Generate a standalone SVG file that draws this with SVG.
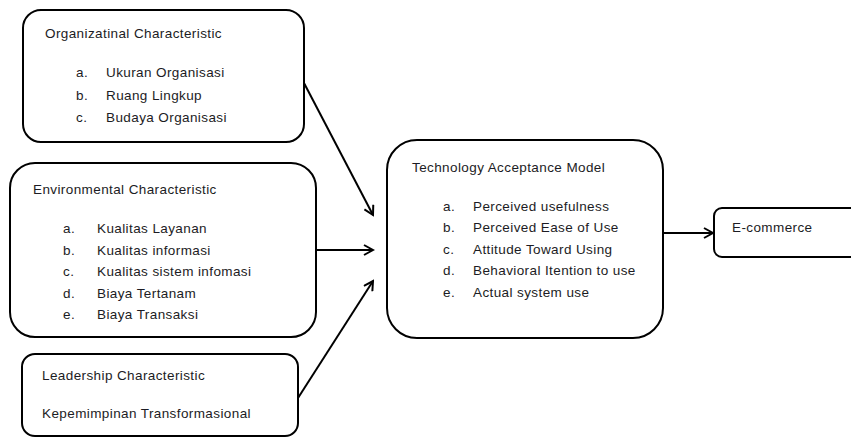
<svg xmlns="http://www.w3.org/2000/svg" width="851" height="438" viewBox="0 0 851 438">
<style>
.box{fill:#fff;stroke:#000;stroke-width:2}
text{font-family:"Liberation Sans",Arial,sans-serif;font-size:13.5px;letter-spacing:0.4px;fill:#1c1c24}
.conn{stroke:#000;stroke-width:2;fill:none}
</style>
<defs>
<marker id="arr" markerWidth="12" markerHeight="12" refX="10" refY="6" orient="auto" markerUnits="userSpaceOnUse">
<path d="M1,1 L10,6 L1,11" fill="none" stroke="#000" stroke-width="2"/>
</marker>
</defs>
<rect width="851" height="438" fill="#fff"/>
<g id="connectors">
<line class="conn" x1="304" y1="83" x2="373" y2="215" marker-end="url(#arr)"/>
<line class="conn" x1="316" y1="250" x2="373" y2="250" marker-end="url(#arr)"/>
<line class="conn" x1="298" y1="398" x2="373" y2="281" marker-end="url(#arr)"/>
<line class="conn" x1="663" y1="233" x2="713" y2="233" marker-end="url(#arr)"/>
</g>
<g id="org">
<rect class="box" x="23" y="10" width="281" height="132" rx="18"/>
<text x="45" y="38">Organizatinal Characteristic</text>
<text x="76" y="77">a.</text><text x="106" y="77">Ukuran Organisasi</text>
<text x="76" y="100">b.</text><text x="106" y="100">Ruang Lingkup</text>
<text x="76" y="122">c.</text><text x="106" y="122">Budaya Organisasi</text>
</g>
<g id="env">
<rect class="box" x="10" y="163" width="306" height="174" rx="25"/>
<text x="33" y="194">Environmental Characteristic</text>
<text x="63" y="233">a.</text><text x="97" y="233">Kualitas Layanan</text>
<text x="63" y="255">b.</text><text x="97" y="255">Kualitas informasi</text>
<text x="63" y="276">c.</text><text x="97" y="276">Kualitas sistem infomasi</text>
<text x="63" y="298">d.</text><text x="97" y="298">Biaya Tertanam</text>
<text x="63" y="319">e.</text><text x="97" y="319">Biaya Transaksi</text>
</g>
<g id="lead">
<rect class="box" x="22" y="354" width="276" height="82" rx="13"/>
<text x="42" y="380">Leadership Characteristic</text>
<text x="42" y="418">Kepemimpinan Transformasional</text>
</g>
<g id="tam">
<rect class="box" x="387" y="140" width="276" height="198" rx="30"/>
<text x="412" y="172">Technology Acceptance Model</text>
<text x="443" y="211">a.</text><text x="473" y="211">Perceived usefulness</text>
<text x="443" y="232">b.</text><text x="473" y="232">Perceived Ease of Use</text>
<text x="443" y="254">c.</text><text x="473" y="254">Attitude Toward Using</text>
<text x="443" y="275">d.</text><text x="473" y="275">Behavioral Itention to use</text>
<text x="443" y="297">e.</text><text x="473" y="297">Actual system use</text>
</g>
<g id="ecom">
<rect class="box" x="714" y="208" width="150" height="49" rx="8"/>
<text x="732" y="232">E-commerce</text>
</g>
</svg>
